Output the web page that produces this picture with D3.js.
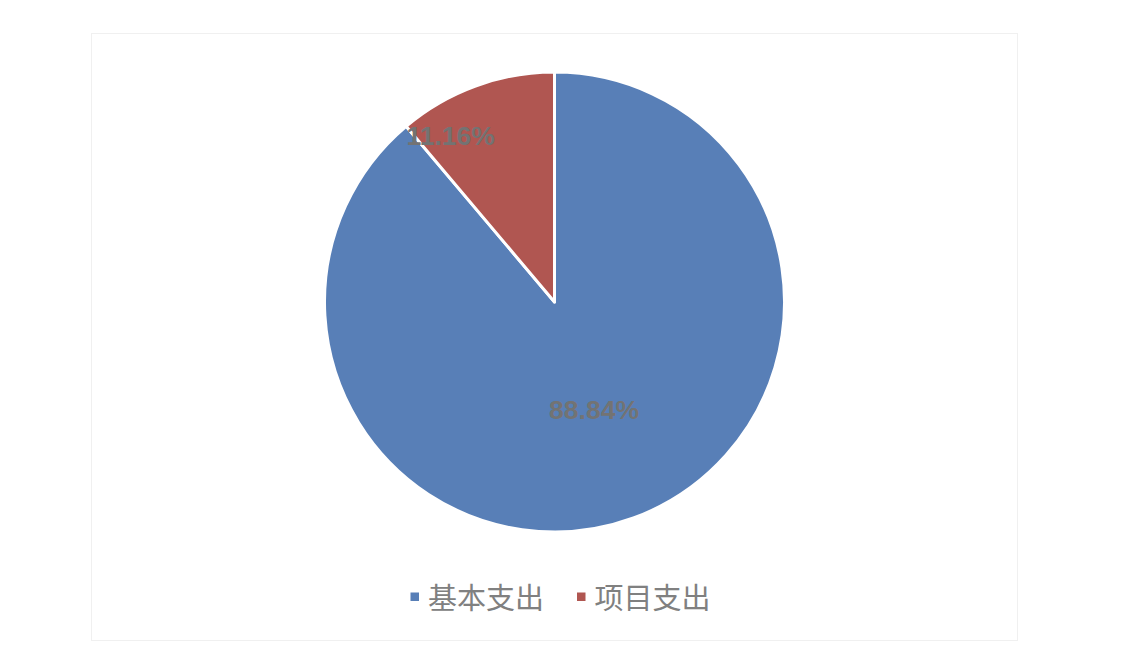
<!DOCTYPE html>
<html>
<head>
<meta charset="utf-8">
<script src="https://cdn.jsdelivr.net/npm/d3@7"></script>
<style>
  body { margin: 0; background: #fff; }
</style>
</head>
<body>
<script>
// data
const categories = ["基本支出", "项目支出"];
const values = [88.84, 11.16];
const labels = ["88.84%", "11.16%"];
const colors = ["#587fb7", "#b05651"];

const W = 1130, H = 662;
const cx = 554.5, cy = 302, r = 230;

const svg = d3.select("body").append("svg")
  .attr("width", W)
  .attr("height", H);

// chart frame
svg.append("rect")
  .attr("x", 91.5).attr("y", 33.5)
  .attr("width", 926).attr("height", 607)
  .attr("fill", "#fff")
  .attr("stroke", "#f0f0f0")
  .attr("stroke-width", 1);

const data = categories.map((c, i) => ({ name: c, value: values[i], label: labels[i], color: colors[i] }));

// clockwise from 12 o'clock, first slice first
const pie = d3.pie().sort(null).value(d => d.value);
const arc = d3.arc().innerRadius(0).outerRadius(r);

const g = svg.append("g").attr("transform", `translate(${cx},${cy})`);

const arcs = pie(data);

g.selectAll("path")
  .data(arcs)
  .join("path")
  .attr("d", arc)
  .attr("fill", d => d.data.color)
  .attr("stroke", "#fff")
  .attr("stroke-width", 3)
  .attr("stroke-linejoin", "round");

// data labels (excel "best fit" placement, small slice nudged left)
const labelRadius = [0.5, 0.77];
const labelShift = [0, -43];
const labelXY = (d, i) => {
  const rr = r * labelRadius[i];
  const [x, y] = d3.arc().innerRadius(rr).outerRadius(rr).centroid(d);
  return [x + labelShift[i], y];
};

g.selectAll("text.lbl")
  .data(arcs)
  .join("text")
  .attr("class", "lbl")
  .attr("x", (d, i) => labelXY(d, i)[0])
  .attr("y", (d, i) => labelXY(d, i)[1])
  .attr("text-anchor", "middle")
  .attr("dominant-baseline", "central")
  .attr("font-family", "'Liberation Sans', Arial, sans-serif")
  .attr("font-weight", "bold")
  .attr("font-size", 26.5)
  .attr("fill", "#737373")
  .text(d => d.data.label);

// legend
const legend = svg.append("g").attr("transform", "translate(0,597)");
const legendX = [410.5, 577];

const item = legend.selectAll("g")
  .data(data)
  .join("g")
  .attr("transform", (d, i) => `translate(${legendX[i]},0)`);

item.append("rect")
  .attr("x", 0).attr("y", -4.5)
  .attr("width", 8.5).attr("height", 8.5)
  .attr("fill", d => d.color);

item.append("text")
  .attr("x", 17.5)
  .attr("y", -1)
  .attr("dominant-baseline", "central")
  .attr("font-family", "'Noto Sans CJK SC', sans-serif")
  .attr("font-size", 29)
  .attr("fill", "#808080")
  .text(d => d.name);
</script>
</body>
</html>
